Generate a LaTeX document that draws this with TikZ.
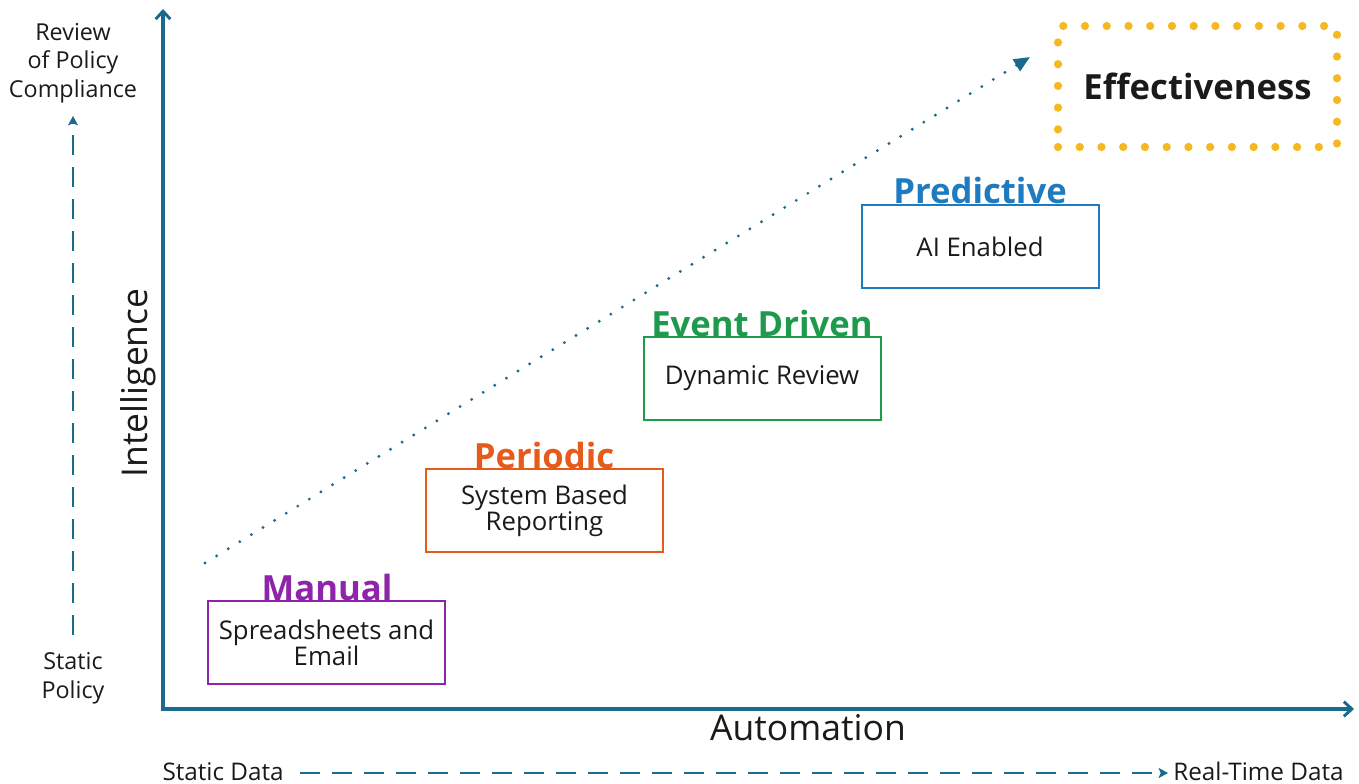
\documentclass[tikz,border=0pt]{standalone}
\usepackage{fontspec}
\setmainfont{Open Sans}
\usetikzlibrary{arrows.meta}
\definecolor{axisblue}{HTML}{1A6A8E}
\definecolor{cpurple}{HTML}{8E24AA}
\definecolor{corange}{HTML}{E65A1A}
\definecolor{cgreen}{HTML}{1E9A4C}
\definecolor{cblue}{HTML}{1F7BBF}
\definecolor{cgold}{HTML}{F5B820}
\definecolor{ctext}{HTML}{1A1A1A}
\tikzset{
  axisline/.style={draw=axisblue, line width=3pt, -{Straight Barb[length=6pt,width=11pt,line width=2.2pt]}},
  dashaxis/.style={draw=axisblue, line width=2.1pt, dash pattern=on 15pt off 9pt, -{Stealth[length=7pt,width=7.5pt,inset=1.5pt]}},
  stagebox/.style={draw, line width=1.5pt, minimum width=177.75pt, minimum height=62.25pt, inner sep=0pt},
  bodytext/.style={text=ctext, align=center, font=\fontsize{19.3}{19.5}\selectfont},
  titletext/.style={anchor=base, font=\bfseries\fontsize{26}{28}\selectfont, inner sep=0pt},
  sidetext/.style={text=ctext, align=center, font=\fontsize{17.5}{21.4}\selectfont},
  bottomtext/.style={text=ctext, inner sep=0pt, font=\fontsize{18.2}{20}\selectfont},
  axislabel/.style={text=ctext, font=\fontsize{26.6}{28}\selectfont},
}
\begin{document}
\begin{tikzpicture}[x=0.75pt,y=-0.75pt]
\useasboundingbox (0,0) rectangle (1359,784);

% axes
\coordinate (origin) at (163,709);
\coordinate (ytip) at (163,9);
\coordinate (xtip) at (1354,709);
\draw[axisline] ([yshift=-1.5pt]origin) -- (ytip);
\draw[axisline] ([xshift=-1.5pt]origin) -- (xtip);

\node[axislabel, rotate=90] (intel) at (138,383) {Intelligence};
\node[axislabel] (auto) at (808,728) {Automation};

% left side scale
\node[sidetext] (review) at (73,63) {Review\\of Policy\\Compliance};
\node[sidetext] (staticpol) at (73,678) {Static\\Policy};
\coordinate (lbot) at (73,635);
\coordinate (ltop) at (73,116);
\draw[dashaxis] (lbot) -- (ltop);

% bottom scale
\node[bottomtext, anchor=base east] (staticdata) at (284,780) {Static Data};
\node[bottomtext, anchor=base west] (realtime) at (1173,780) {Real-Time Data};
\coordinate (bl) at (300,773);
\coordinate (br) at (1168,773);
\draw[dashaxis] (bl) -- (br);

% stages
\node[stagebox, draw=cpurple] (manual) at (326.5,642.5) {};
\node[bodytext] at (manual.center) {Spreadsheets and\\Email};
\node[titletext, text=cpurple] (manualt) at (327,600) {Manual};

\node[stagebox, draw=corange] (periodic) at (544.5,510.5) {};
\node[bodytext] at (periodic.center) {System Based\\Reporting};
\node[titletext, text=corange] (periodict) at (544,468) {Periodic};

\node[stagebox, draw=cgreen] (event) at (762,378.5) {};
\node[bodytext] at (event.center) {Dynamic Review};
\node[titletext, text=cgreen] (eventt) at (762,336) {Event Driven};

\node[stagebox, draw=cblue] (predict) at (980,246.5) {};
\node[bodytext] at (predict.center) {AI Enabled};
\node[titletext, text=cblue] (predictt) at (980,204) {Predictive};

% effectiveness
\node[draw=cgold, line width=6.2pt, line cap=round, dash pattern=on 0pt off 16.3pt,
      minimum width=209.25pt, minimum height=90.75pt, inner sep=0pt,
      text=ctext, font=\bfseries\fontsize{26}{28}\selectfont] (eff) at (1197.5,86.5) {Effectiveness};

% dotted trend arrow
\coordinate (tstart) at (205,563);
\coordinate (tend) at (1030,57);
\draw[axisblue, line width=2.4pt, line cap=round, dash pattern=on 0pt off 10.2pt,
      -{Triangle[length=12pt,width=10pt]}] (tstart) -- (tend);
\end{tikzpicture}
\end{document}
